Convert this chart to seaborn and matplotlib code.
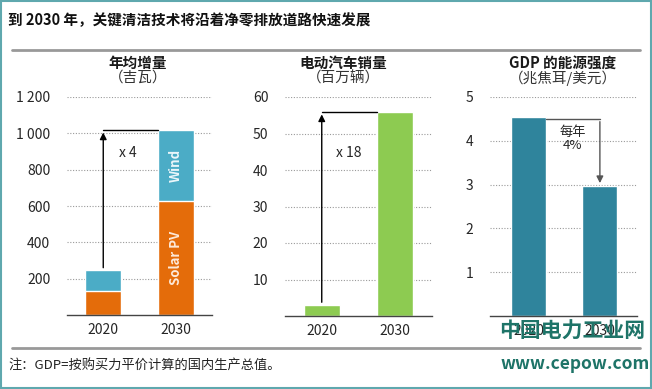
import matplotlib
matplotlib.use('Agg')
import matplotlib.pyplot as plt
import seaborn as sns
import pandas as pd

sns.set_style('white')
plt.rcParams['font.family'] = ['Noto Sans CJK SC', 'DejaVu Sans']

# data
years = ['2020', '2030']
solar_pv = [132, 630]
wind = [113, 390]
ev_sales = [3.0, 56]
energy_intensity = [4.55, 2.97]

cap_ticks = [200, 400, 600, 800, 1000, 1200]
cap_labels = ['200', '400', '600', '800', '1 000', '1 200']
ev_ticks = [10, 20, 30, 40, 50, 60]
gdp_ticks = [1, 2, 3, 4, 5]

c_solar = '#E46C0A'
c_wind = '#4BACC6'
c_ev = '#8DCB51'
c_gdp = '#2F849C'
txt = '#262626'

W, H = 652, 389
fig = plt.figure(figsize=(W / 100, H / 100), dpi=100)


def frac(x0, x1, ytop, ybase):
    return [x0 / W, (H - ybase) / H, (x1 - x0) / W, (ybase - ytop) / H]


ax1 = fig.add_axes(frac(67, 212, 97, 315))
ax2 = fig.add_axes(frac(285, 432, 97, 316))
ax3 = fig.add_axes(frac(490, 637, 97, 316))

cap = pd.DataFrame({'year': years, 'solar': solar_pv,
                    'total': [s + w for s, w in zip(solar_pv, wind)]})
sns.barplot(data=cap, x='year', y='total', color=c_wind, width=0.49,
            saturation=1, ax=ax1)
sns.barplot(data=cap, x='year', y='solar', color=c_solar, width=0.49,
            saturation=1, ax=ax1)

ev = pd.DataFrame({'year': years, 'sales': ev_sales})
sns.barplot(data=ev, x='year', y='sales', color=c_ev, width=0.49,
            saturation=1, ax=ax2)

gdp = pd.DataFrame({'year': years, 'intensity': energy_intensity})
sns.barplot(data=gdp, x='year', y='intensity', color=c_gdp, width=0.49,
            saturation=1, ax=ax3)

for ax, ticks, top in [(ax1, cap_ticks, 1200), (ax2, ev_ticks, 60), (ax3, gdp_ticks, 5)]:
    ax.set_ylim(0, top)
    ax.set_xlim(-0.5, 1.5)
    ax.set_yticks(ticks)
    ax.set_xlabel('')
    ax.set_ylabel('')
    ax.grid(axis='y', linestyle=(0, (1, 1.5)), color='#9a9a9a', linewidth=0.8)
    ax.set_axisbelow(True)
    for s in ['top', 'right', 'left']:
        ax.spines[s].set_visible(False)
    ax.spines['bottom'].set_color('#444444')
    ax.spines['bottom'].set_linewidth(1)
    ax.tick_params(axis='both', length=0, labelsize=10, colors=txt, pad=6)
    ax.tick_params(axis='y', pad=12)
    ax.set_facecolor('none')

ax1.set_yticklabels(cap_labels)
ax3.set_xlim(-0.54, 1.52)

# labels inside stacked bars
ax1.text(1, solar_pv[1] / 2, 'Solar PV', rotation=90, ha='center', va='center',
         color='#FDE9D9', fontsize=9.5, fontweight='bold')
ax1.text(1, solar_pv[1] + wind[1] / 2, 'Wind', rotation=90, ha='center', va='center',
         color='#EAF6FA', fontsize=9.5, fontweight='bold')

# growth arrows
tot = cap['total']
ax1.plot([0, 0.755], [tot[1], tot[1]], color='black', lw=1)
ax1.annotate('', xy=(0, tot[1]), xytext=(0, tot[0]),
             arrowprops=dict(arrowstyle='-|>', color='black', lw=1, mutation_scale=10))
ax1.text(0.22, 890, 'x 4', ha='left', va='center', fontsize=10, color=txt)

ax2.plot([0, 0.755], [ev_sales[1], ev_sales[1]], color='black', lw=1)
ax2.annotate('', xy=(0, ev_sales[1]), xytext=(0, ev_sales[0]),
             arrowprops=dict(arrowstyle='-|>', color='black', lw=1, mutation_scale=10))
ax2.text(0.2, 44.6, 'x 18', ha='left', va='center', fontsize=10, color=txt)

ax3.plot([0.245, 1], [energy_intensity[0] - 0.05, energy_intensity[0] - 0.05],
         color='#555555', lw=1)
ax3.annotate('', xy=(1, energy_intensity[1]), xytext=(1, energy_intensity[0] - 0.05),
             arrowprops=dict(arrowstyle='-|>', color='#555555', lw=1, mutation_scale=10))
ax3.text(0.62, 4.05, '每年\n4%', ha='center', va='center', fontsize=9.5,
         color=txt, linespacing=1.0)

# panel titles
for cx, t1, t2 in [(138, '年均增量', '（吉瓦）'), (343, '电动汽车销量', '（百万辆）'),
                   (563, 'GDP 的能源强度', '（兆焦耳/美元）')]:
    fig.text(cx / W, 1 - 63 / H, t1, ha='center', va='center', fontsize=10.5,
             fontweight='bold', color='#1a1a1a')
    fig.text(cx / W, 1 - 78 / H, t2, ha='center', va='center', fontsize=10.5,
             color='#333333')

# header, rules and footer
fig.text(8 / W, 1 - 20 / H, '到 2030 年，关键清洁技术将沿着净零排放道路快速发展',
         ha='left', va='center', fontsize=10.5, fontweight='bold', color='#111111')
for y in (50, 348):
    fig.add_artist(plt.Line2D([12 / W, 640 / W], [1 - y / H, 1 - y / H],
                              color='#999999', lw=2))
fig.text(8 / W, 1 - 366 / H, '注：GDP=按购买力平价计算的国内生产总值。',
         ha='left', va='center', fontsize=9.5, color='#222222')
fig.add_artist(plt.Rectangle((0.002, 0.003), 0.996, 0.994, fill=False,
                             edgecolor='#5FA8AE', lw=1.5))

# watermark
fig.text(572 / W, 1 - 331 / H, '中国电力工业网', ha='center', va='center',
         fontsize=15, fontweight='bold', color='#1E7468')
fig.text(575 / W, 1 - 364 / H, 'www.cepow.com', ha='center', va='center',
         fontsize=12.5, fontweight='bold', color='#1E7468')

fig.savefig('out.png', dpi=100)
